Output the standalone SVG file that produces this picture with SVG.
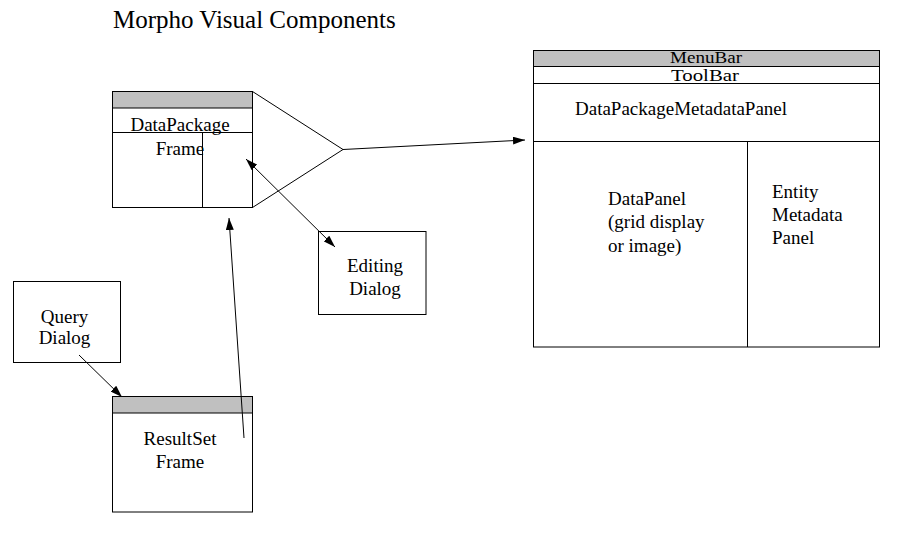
<svg xmlns="http://www.w3.org/2000/svg" width="904" height="537" viewBox="0 0 904 537">
<style>
.box{fill:#fff;stroke:#000;stroke-width:1}
.bar{fill:#c0c0c0;stroke:#000;stroke-width:1}
.ln{stroke:#000;stroke-width:1;fill:none}
text{font-family:"Liberation Serif","Times New Roman",serif;font-size:19px;fill:#000}
.c{text-anchor:middle}
.title{font-size:25px}
.sm{font-size:16px}
</style>
<defs>
<marker id="ah" viewBox="0 0 12 8" refX="12" refY="4" markerWidth="12" markerHeight="8" markerUnits="userSpaceOnUse" orient="auto-start-reverse">
<path d="M0,0 L12,4 L0,8 z" fill="#000"/>
</marker>
</defs>
<rect width="904" height="537" fill="#fff"/>
<text class="title" x="113" y="28">Morpho Visual Components</text>

<g id="datapackage-frame">
<rect class="box" x="112.5" y="91.5" width="140" height="116"/>
<rect class="bar" x="112.5" y="91.5" width="140" height="16.5"/>
<line class="ln" x1="112.5" y1="132.5" x2="252.5" y2="132.5"/>
<line class="ln" x1="202.5" y1="132.5" x2="202.5" y2="207.5"/>
<text class="c" x="180" y="131">DataPackage</text>
<text class="c" x="180" y="155">Frame</text>
</g>

<g id="main-window">
<rect class="box" x="533.5" y="50.5" width="346" height="296.5"/>
<rect class="bar" x="533.5" y="50.5" width="346" height="16"/>
<line class="ln" x1="533.5" y1="83.5" x2="879.5" y2="83.5"/>
<line class="ln" x1="533.5" y1="141.5" x2="879.5" y2="141.5"/>
<line class="ln" x1="747.5" y1="141.5" x2="747.5" y2="347"/>
<text class="c sm" x="706" y="63" textLength="72" lengthAdjust="spacingAndGlyphs">MenuBar</text>
<text class="c sm" x="705" y="81" textLength="68" lengthAdjust="spacingAndGlyphs">ToolBar</text>
<text x="575" y="115">DataPackageMetadataPanel</text>
<text x="608" y="205">DataPanel</text>
<text x="608" y="228">(grid display</text>
<text x="608" y="252">or image)</text>
<text x="772" y="198">Entity</text>
<text x="772" y="221">Metadata</text>
<text x="772" y="244">Panel</text>
</g>

<g id="editing-dialog">
<rect class="box" x="318.5" y="231.5" width="107.5" height="83"/>
<text class="c" x="375" y="272">Editing</text>
<text class="c" x="375" y="295">Dialog</text>
</g>

<g id="query-dialog">
<rect class="box" x="13.5" y="281.5" width="107" height="81"/>
<text class="c" x="64.5" y="323">Query</text>
<text class="c" x="64.5" y="344">Dialog</text>
</g>

<g id="resultset-frame">
<rect class="box" x="112.5" y="396.5" width="140" height="115.5"/>
<rect class="bar" x="112.5" y="396.5" width="140" height="16.5"/>
<text class="c" x="180" y="445">ResultSet</text>
<text class="c" x="180" y="468">Frame</text>
</g>

<g id="connectors">
<polyline class="ln" points="252.5,91.5 343,149.5 252.5,207.5"/>
<line class="ln" x1="343" y1="149.5" x2="525" y2="140" marker-end="url(#ah)"/>
<line class="ln" x1="246" y1="159" x2="335" y2="247" marker-start="url(#ah)" marker-end="url(#ah)"/>
<line class="ln" x1="244" y1="438" x2="229" y2="218" marker-end="url(#ah)"/>
<line class="ln" x1="79" y1="355" x2="122" y2="397" marker-end="url(#ah)"/>
</g>
</svg>
